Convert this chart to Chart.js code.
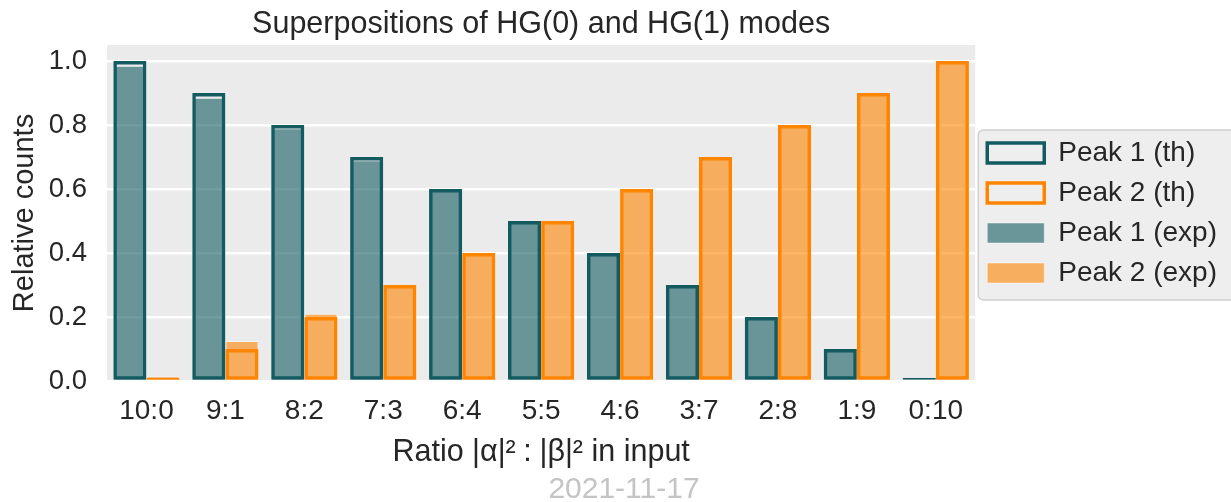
<!DOCTYPE html>
<html>
<head>
  <title>Superpositions of HG(0) and HG(1) modes</title>
  <script src="https://cdn.jsdelivr.net/npm/chart.js@4"></script>
  <style>html,body{margin:0;padding:0;background:#fff;overflow:hidden}#wrap{width:1248px;height:502px;position:relative}</style>
</head>
<body>
<div id="wrap"><canvas id="chart"></canvas></div>
<script>
const ratios = ['10:0', '9:1', '8:2', '7:3', '6:4', '5:5', '4:6', '3:7', '2:8', '1:9', '0:10'];
const peak1Th = [1.0, 0.9, 0.8, 0.7, 0.6, 0.5, 0.4, 0.3, 0.2, 0.1, 0.0];
const peak2Th = [0.0, 0.1, 0.2, 0.3, 0.4, 0.5, 0.6, 0.7, 0.8, 0.9, 1.0];
const peak1Exp = [0.985, 0.885, 0.79, 0.69, 0.6, 0.5, 0.4, 0.3, 0.2, 0.1, 0.0];
const peak2Exp = [0.015, 0.125, 0.21, 0.3, 0.4, 0.5, 0.6, 0.7, 0.8, 0.895, 0.995];
const yTicks = [0.0, 0.2, 0.4, 0.6, 0.8, 1.0];

const teal = '#135b61';
const orange = '#ff8400';
const font = "'Liberation Sans', Arial, sans-serif";
const ink = '#262626';

// grey panel behind the plot and the framed legend
const backdrop = {
  id: 'backdrop',
  beforeDraw(chart) {
    const {ctx, chartArea: a, legend} = chart;
    ctx.save();
    ctx.fillStyle = '#ebebeb';
    ctx.fillRect(a.left, a.top, a.right - a.left, a.bottom - a.top);
    const boxes = legend.legendHitBoxes;
    if (boxes && boxes.length) {
      const first = boxes[0], last = boxes[boxes.length - 1];
      const x = first.left - 9;
      const y = first.top + first.height / 2 - 23;
      const h = (last.top + last.height / 2 + 27) - y;
      const w = chart.width + 20 - x;
      ctx.beginPath();
      ctx.roundRect(x, y, w, h, 5);
      ctx.fillStyle = '#eeeeee';
      ctx.fill();
      ctx.lineWidth = 1.5;
      ctx.strokeStyle = '#d0d0d0';
      ctx.stroke();
    }
    ctx.restore();
  }
};

new Chart(document.getElementById('chart'), {
  type: 'bar',
  data: {
    labels: ratios,
    datasets: [
      { label: 'Peak 1 (th)', data: peak1Th, stack: 'p1', backgroundColor: 'rgba(0,0,0,0)', borderColor: teal, borderWidth: 3.5, borderSkipped: false, minBarLength: 3, clip: false },
      { label: 'Peak 2 (th)', data: peak2Th, stack: 'p2', backgroundColor: 'rgba(0,0,0,0)', borderColor: orange, borderWidth: 3.5, borderSkipped: false, minBarLength: 3, clip: false },
      { label: 'Peak 1 (exp)', data: peak1Exp, stack: 'p1', backgroundColor: 'rgba(19,91,97,0.6)', borderColor: 'rgba(255,255,255,0.45)', borderWidth: 1, borderSkipped: 'bottom' },
      { label: 'Peak 2 (exp)', data: peak2Exp, stack: 'p2', backgroundColor: 'rgba(255,132,0,0.6)', borderColor: 'rgba(255,255,255,0.45)', borderWidth: 1, borderSkipped: 'bottom' }
    ]
  },
  options: {
    responsive: true,
    maintainAspectRatio: false,
    animation: false,
    categoryPercentage: 0.84,
    barPercentage: 1.0,
    layout: { padding: 0 },
    scales: {
      x: {
        position: 'bottom',
        grid: { display: false, drawTicks: false },
        border: { display: false },
        ticks: { color: ink, font: { family: font, size: 28 }, padding: 13, maxRotation: 0 },
        title: { display: true, text: 'Ratio |\u03b1|\u00b2\u2005:\u2005|\u03b2|\u00b2 in input', color: ink, font: { family: font, size: 30.5 }, padding: { top: 0, bottom: 3 } },
        afterFit(scale) { scale.height = 93; }
      },
      x2: {
        position: 'top',
        grid: { display: false, drawTicks: false },
        border: { display: false },
        ticks: { display: false },
        title: { display: true, text: 'Superpositions of HG(0) and HG(1) modes', color: ink, font: { family: font, size: 30.5 }, padding: { top: 6, bottom: 0 } },
        afterFit(scale) { scale.height = 45; }
      },
      y: {
        min: 0,
        max: 1.05,
        stacked: false,
        grid: { color: '#ffffff', lineWidth: 2.5, drawTicks: false },
        border: { display: false },
        afterBuildTicks(scale) { scale.ticks = yTicks.map(v => ({ value: v })); },
        ticks: { color: ink, font: { family: font, size: 27.5 }, padding: 20, callback: v => v.toFixed(1) },
        title: { display: true, text: 'Relative counts', color: ink, font: { family: font, size: 29 }, padding: { top: 8, bottom: 0 } },
        afterFit(scale) { scale.width = 107; }
      }
    },
    plugins: {
      legend: {
        position: 'right',
        fullSize: false,
        align: 'center',
        labels: {
          color: ink,
          font: { family: font, size: 28 },
          boxWidth: 57,
          boxHeight: 20,
          padding: 12,
          // trailing blank keeps the legend column as wide as the clipped original
          generateLabels(chart) {
            return Chart.defaults.plugins.legend.labels.generateLabels(chart).map(l => ({ ...l, text: l.text + '\u2002\u2005' }));
          }
        }
      },
      subtitle: {
        display: true,
        position: 'bottom',
        text: '2021-11-17',
        color: '#c4c4c4',
        font: { family: font, size: 30, lineHeight: 0.8 },
        padding: { top: 4, bottom: 0 }
      },
      title: { display: false },
      tooltip: { enabled: false }
    }
  },
  plugins: [backdrop]
});
</script>
</body>
</html>
